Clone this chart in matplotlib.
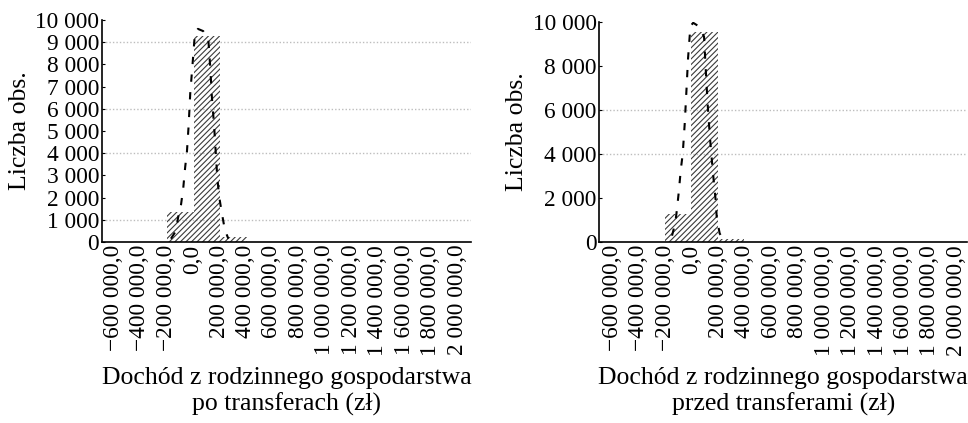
import matplotlib
matplotlib.use("Agg")
import matplotlib.pyplot as plt
from matplotlib.ticker import FixedLocator, FixedFormatter

plt.rcParams["font.family"] = ["Liberation Serif", "DejaVu Serif"]
plt.rcParams["hatch.linewidth"] = 0.8

# Histogram bins (zł) and counts, after transfers
after_edges = [-190000, 10000, 210000, 410000]
after_counts = [1370, 9280, 230]
# Fitted distribution curve, after transfers
after_curve_x = [-164000, -126000, -110000, -88000, -71000, -56000, -43000, -30000,
                 -18000, 0, 17000, 40000, 80000, 118000, 133000, 146000, 163000,
                 176000, 186000, 201000, 219000, 244000, 270000]
after_curve_y = [150, 500, 1100, 1670, 2420, 3390, 4070, 5270,
                 6700, 8050, 9370, 9600, 9500, 9180, 7900, 6490, 5190,
                 3920, 2940, 2040, 1365, 540, 150]

# Histogram bins (zł) and counts, before transfers
before_edges = [-205000, -5000, 195000, 395000]
before_counts = [1280, 9550, 150]
before_curve_x = [-150000, -125000, -112000, -99000, -84000, -69000, -54000, -41000,
                  -29000, -11000, 10000, 50000, 92000, 105000, 118000, 135000,
                  153000, 168000, 181000, 188000, 210000, 240000]
before_curve_y = [300, 900, 1540, 2290, 3280, 4030, 5390, 6900,
                  8340, 9800, 9950, 9800, 9320, 7810, 6370, 4860,
                  3580, 2600, 1840, 1090, 400, 100]

x_ticks = [-600000, -400000, -200000, 0, 200000, 400000, 600000, 800000, 1000000,
           1200000, 1400000, 1600000, 1800000, 2000000]
x_tick_labels = ["\u2212600 000,0", "\u2212400 000,0", "\u2212200 000,0", "0,0",
                 "200 000,0", "400 000,0", "600 000,0", "800 000,0", "1 000 000,0",
                 "1 200 000,0", "1 400 000,0", "1 600 000,0", "1 800 000,0",
                 "2 000 000,0"]

left_y_ticks = [0, 1000, 2000, 3000, 4000, 5000, 6000, 7000, 8000, 9000, 10000]
left_y_labels = ["0", "1 000", "2 000", "3 000", "4 000", "5 000", "6 000",
                 "7 000", "8 000", "9 000", "10 000"]
right_y_ticks = [0, 2000, 4000, 6000, 8000, 10000]
right_y_labels = ["0", "2 000", "4 000", "6 000", "8 000", "10 000"]

left_grid = [1000, 4000, 6000, 9000]
right_grid = [4000, 6000]

TICK_FS = 16.8
LABEL_FS = 18.5

fig = plt.figure(figsize=(9.68, 4.23), dpi=100)
ax1 = fig.add_axes([0.1054, 0.4279, 0.3812, 0.5248])
ax2 = fig.add_axes([0.6191, 0.4272, 0.3799, 0.5215])


def draw_panel(ax, edges, counts, cx, cy, yticks, ylabels, grid, xlim, xlabel):
    for g in grid:
        ax.axhline(g, color="#bdbdbd", lw=1.0, ls=(0, (1, 1.5)), zorder=0)
    widths = [edges[i + 1] - edges[i] for i in range(len(counts))]
    ax.bar(edges[:-1], counts, width=widths, align="edge", facecolor="none",
           edgecolor="#3a3a3a", linewidth=0, hatch="//////", zorder=2)
    ax.plot(cx, cy, color="black", lw=1.5, ls=(0, (3.5, 5)), zorder=3)
    ax.set_xlim(*xlim)
    ax.set_ylim(0, 10000)
    ax.xaxis.set_major_locator(FixedLocator(x_ticks))
    ax.xaxis.set_major_formatter(FixedFormatter(x_tick_labels))
    ax.yaxis.set_major_locator(FixedLocator(yticks))
    ax.yaxis.set_major_formatter(FixedFormatter(ylabels))
    ax.tick_params(axis="x", length=0, pad=2, labelsize=TICK_FS, labelrotation=90)
    ax.tick_params(axis="y", length=2, direction="in", pad=2, labelsize=TICK_FS)
    for s in ("top", "right"):
        ax.spines[s].set_visible(False)
    for s in ("left", "bottom"):
        ax.spines[s].set_linewidth(1.2)
    ax.set_ylabel("Liczba obs.", fontsize=LABEL_FS, labelpad=3)
    ax.set_xlabel(xlabel, fontsize=LABEL_FS, labelpad=8, linespacing=1.2)


draw_panel(ax1, after_edges, after_counts, after_curve_x, after_curve_y,
           left_y_ticks, left_y_labels, left_grid, (-685000, 2105000),
           "Dochód z rodzinnego gospodarstwa\npo transferach (zł)")
draw_panel(ax2, before_edges, before_counts, before_curve_x, before_curve_y,
           right_y_ticks, right_y_labels, right_grid, (-700000, 2080000),
           "Dochód z rodzinnego gospodarstwa\nprzed transferami (zł)")

fig.savefig("out.png", dpi=100)
